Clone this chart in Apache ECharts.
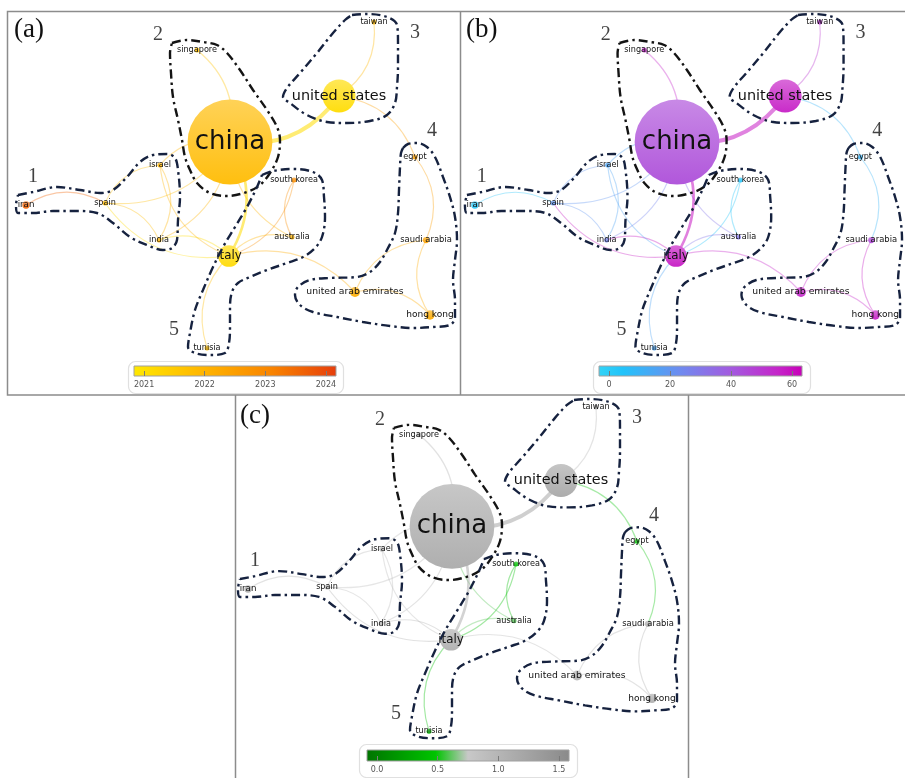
<!DOCTYPE html>
<html>
<head>
<meta charset="utf-8">
<script src="https://cdn.jsdelivr.net/npm/echarts@6/dist/echarts.min.js"></script>
<style>
  html, body { margin: 0; padding: 0; background: #ffffff; }
  #chart { width: 905px; height: 778px; }
</style>
</head>
<body>
<div id="chart"></div>
<script>
// ---- Country co-authorship network (map coordinates, china at the origin) ----
const countries = ['china', 'united states', 'italy', 'singapore', 'taiwan', 'israel', 'iran', 'spain',
  'india', 'south korea', 'australia', 'egypt', 'saudi arabia', 'united arab emirates', 'hong kong', 'tunisia'];
const mapX = [0, 1.09, -0.01, -0.33, 1.44, -0.70, -2.04, -1.25, -0.71, 0.64, 0.62, 1.85, 1.96, 1.25, 2.00, -0.23];
const mapY = [0, 0.46, -1.14, 0.92, 1.20, -0.23, -0.63, -0.61, -0.98, -0.38, -0.95, -0.15, -0.98, -1.50, -1.73, -2.06];
const weights = [46, 7, 3, 0.16, 0.16, 0.16, 0.35, 0.16, 0.16, 0.16, 0.16, 0.16, 0.25, 0.65, 0.55, 0.16];

// overlay scores
const avgPubYear = [2021.85, 2021.1, 2021.15, 2021.7, 2021.9, 2022.0, 2023.6, 2021.8, 2022.0, 2022.9, 2022.0, 2022.5, 2022.4, 2022.15, 2022.2, 2021.8];
const avgCitations = [44, 57, 58, 55, 50, 15, 3, 20, 25, 4, 30, 10, 45, 55, 57, 15];
const avgNormCitations = [1.15, 1.2, 1.1, 1.1, 1.0, 0.95, 1.1, 0.95, 1.0, 0.45, 0.6, 0.5, 1.1, 1.0, 1.1, 0.45];

// links: [source, target, link strength]
const links = [
  ['singapore', 'china', 1.2], ['united states', 'china', 4], ['taiwan', 'united states', 1],
  ['egypt', 'united states', 1], ['egypt', 'saudi arabia', 1], ['hong kong', 'saudi arabia', 1],
  ['united arab emirates', 'saudi arabia', 1], ['united arab emirates', 'hong kong', 1],
  ['united arab emirates', 'italy', 1], ['south korea', 'italy', 1], ['south korea', 'australia', 1],
  ['australia', 'italy', 1], ['australia', 'china', 1], ['italy', 'china', 2.6],
  ['tunisia', 'italy', 1], ['iran', 'spain', 1], ['spain', 'israel', 1], ['spain', 'india', 1],
  ['israel', 'india', 1], ['spain', 'china', 1], ['india', 'china', 1], ['israel', 'china', 1],
  ['italy', 'india', 1], ['italy', 'spain', 1], ['israel', 'italy', 1]
];
const linkBend = [1, 1, 1, -1, 1, 1, 1, 1, -1, 1, -1, -1, 1, -1, 1, 1, 1, 1, 1, -1, -1, 1, -1, 1, -1];

// cluster hulls (map coordinates)
const cluster1Outline = [[-2.12,-0.53],[-1.97,-0.50],[-1.73,-0.45],[-1.50,-0.48],[-1.30,-0.51],[-1.17,-0.48],[-1.03,-0.35],[-0.90,-0.20],[-0.77,-0.13],[-0.63,-0.12],[-0.55,-0.16],[-0.52,-0.28],[-0.50,-0.55],[-0.52,-0.78],[-0.53,-0.98],[-0.58,-1.06],[-0.67,-1.08],[-0.83,-1.03],[-1.00,-0.95],[-1.17,-0.81],[-1.33,-0.71],[-1.53,-0.69],[-1.77,-0.69],[-1.97,-0.71],[-2.12,-0.71],[-2.14,-0.63]];
const cluster2Outline = [[-0.58,0.99],[-0.43,1.02],[-0.27,1.00],[-0.13,0.97],[-0.03,0.89],[0.10,0.72],[0.23,0.52],[0.37,0.32],[0.47,0.15],[0.50,0.02],[0.48,-0.15],[0.40,-0.31],[0.30,-0.43],[0.17,-0.50],[-0.03,-0.54],[-0.20,-0.51],[-0.33,-0.41],[-0.40,-0.28],[-0.45,-0.15],[-0.48,0.02],[-0.52,0.22],[-0.57,0.45],[-0.59,0.69],[-0.60,0.89]];
const cluster3Outline = [[1.22,1.27],[1.37,1.28],[1.57,1.25],[1.67,1.17],[1.68,0.99],[1.68,0.75],[1.67,0.55],[1.65,0.39],[1.57,0.27],[1.40,0.21],[1.17,0.19],[0.97,0.20],[0.77,0.27],[0.60,0.39],[0.53,0.45],[0.57,0.54],[0.70,0.69],[0.87,0.89],[1.03,1.09],[1.15,1.22]];
const cluster4Outline = [[1.73,-0.06],[1.78,-0.02],[1.87,-0.01],[1.97,-0.05],[2.05,-0.15],[2.13,-0.35],[2.20,-0.55],[2.25,-0.75],[2.27,-0.98],[2.25,-1.18],[2.23,-1.38],[2.25,-1.58],[2.25,-1.75],[2.20,-1.83],[2.03,-1.85],[1.83,-1.86],[1.60,-1.84],[1.33,-1.80],[1.07,-1.75],[0.83,-1.70],[0.70,-1.63],[0.65,-1.53],[0.68,-1.45],[0.80,-1.38],[1.00,-1.36],[1.27,-1.35],[1.40,-1.30],[1.50,-1.20],[1.58,-1.06],[1.65,-0.91],[1.68,-0.71],[1.69,-0.48],[1.70,-0.25],[1.71,-0.11]];
const cluster5Outline = [[0.32,-0.33],[0.43,-0.29],[0.63,-0.27],[0.83,-0.30],[0.92,-0.38],[0.94,-0.55],[0.95,-0.75],[0.92,-0.95],[0.85,-1.06],[0.73,-1.15],[0.57,-1.21],[0.37,-1.28],[0.20,-1.35],[0.08,-1.41],[0.02,-1.50],[0.00,-1.65],[0.00,-1.85],[-0.01,-2.01],[-0.05,-2.11],[-0.20,-2.13],[-0.35,-2.11],[-0.42,-2.05],[-0.40,-1.91],[-0.35,-1.68],[-0.27,-1.48],[-0.17,-1.25],[-0.07,-1.05],[0.05,-0.85],[0.17,-0.65],[0.27,-0.45]];
const clusterOutlines = [cluster1Outline, cluster2Outline, cluster3Outline, cluster4Outline, cluster5Outline];
const clusterNames = ['1', '2', '3', '4', '5'];
const clusterLabelX = [-1.97, -0.72, 1.85, 2.02, -0.56];
const clusterLabelY = [-0.35, 1.07, 1.09, 0.11, -1.88];

// colour scales
const yearTicks = [2021, 2022, 2023, 2024];
const citationTicks = [0, 20, 40, 60];
const normTicks = [0, 0.5, 1, 1.5];
const yearRange = [2020.833, 2024.167];
const citationRange = [-3.28, 63.28];
const normRange = [-0.083, 1.583];

// ---------------------------------------------------------------------------
const yearStops = [[0, '#FFE800'], [0.35, '#FFB400'], [0.68, '#F98400'], [1, '#E63E0C']];
const citeStops = [[0, '#33D3F6'], [0.12, '#22C3FA'], [0.4, '#6F8BEF'], [0.65, '#A35ADF'], [0.88, '#C525C9'], [1, '#C800B8']];
const normStops = [[0, '#007400'], [0.34, '#00C400'], [0.5, '#C8C8C8'], [1, '#8A8A8A']];

function hexToRgb(h) {
  return [parseInt(h.slice(1, 3), 16), parseInt(h.slice(3, 5), 16), parseInt(h.slice(5, 7), 16)];
}
function rgbStr(c) { return 'rgb(' + c.map(v => Math.round(v)).join(',') + ')'; }
function mix(a, b, t) { return [0, 1, 2].map(i => a[i] + (b[i] - a[i]) * t); }
function scaleColor(stops, range, v) {
  let t = (v - range[0]) / (range[1] - range[0]);
  t = Math.max(0, Math.min(1, t));
  for (let i = 1; i < stops.length; i++) {
    if (t <= stops[i][0]) {
      const s0 = stops[i - 1], s1 = stops[i];
      return mix(hexToRgb(s0[1]), hexToRgb(s1[1]), (t - s0[0]) / (s1[0] - s0[0]));
    }
  }
  return hexToRgb(stops[stops.length - 1][1]);
}
function gradientOf(stops) {
  return { type: 'linear', x: 0, y: 0, x2: 1, y2: 0,
    colorStops: stops.map(s => ({ offset: s[0], color: s[1] })) };
}

const overlays = [
  { values: avgPubYear, stops: yearStops, range: yearRange },
  { values: avgCitations, stops: citeStops, range: citationRange },
  { values: avgNormCitations, stops: normStops, range: normRange }
];

// panel placement
const panelGrids = [{ left: 8, top: 12 }, { left: 457, top: 12 }, { left: 230, top: 397 }];
const MAP_X = [-2.22, 2.30], MAP_Y = [-2.53, 1.30];
const GRID_W = 452, GRID_H = 383;
const FONT = '"DejaVu Sans", sans-serif';
const SERIF = '"Liberation Serif", "Times New Roman", serif';
const WHITE = [255, 255, 255];

const grid = [], xAxis = [], yAxis = [], series = [];
const nameIndex = {};
countries.forEach((c, i) => { nameIndex[c] = i; });

panelGrids.forEach((pg, p) => {
  grid.push({ left: pg.left, top: pg.top, width: GRID_W, height: GRID_H, show: false });
  xAxis.push({ gridIndex: p, type: 'value', min: MAP_X[0], max: MAP_X[1], show: false });
  yAxis.push({ gridIndex: p, type: 'value', min: MAP_Y[0], max: MAP_Y[1], show: false });

  const ov = overlays[p];
  const nodeRgb = ov.values.map(v => scaleColor(ov.stops, ov.range, v));

  const nodes = countries.map((c, i) => {
    const base = nodeRgb[i];
    return {
      name: c,
      value: [mapX[i], mapY[i]],
      symbolSize: 12.5 * Math.sqrt(weights[i]),
      itemStyle: {
        color: { type: 'linear', x: 0, y: 0, x2: 0, y2: 1, colorStops: [
          { offset: 0, color: rgbStr(mix(base, WHITE, 0.34)) },
          { offset: 1, color: rgbStr(mix(base, WHITE, 0.06)) }
        ] }
      },
      label: { fontSize: 7 + 2.8 * Math.sqrt(weights[i]) }
    };
  });

  const edges = links.map((l, k) => {
    const s = nameIndex[l[0]], t = nameIndex[l[1]];
    return {
      source: s, target: t,
      lineStyle: {
        color: rgbStr(nodeRgb[s]),
        width: 0.3 + 0.9 * l[2],
        curveness: 0.3 * linkBend[k],
        opacity: l[2] > 2 ? 0.55 : 0.36
      }
    };
  });

  series.push({
    type: 'graph', coordinateSystem: 'cartesian2d', xAxisIndex: p, yAxisIndex: p,
    data: nodes, links: edges, silent: true, animation: false, z: 2,
    label: { show: true, position: 'inside', color: '#111', fontFamily: FONT },
    emphasis: { disabled: true }
  });

  clusterOutlines.forEach((pts, ci) => {
    series.push({
      type: 'line', xAxisIndex: p, yAxisIndex: p, data: pts.concat([pts[0]]),
      smooth: 0.35, symbol: 'none', silent: true, animation: false, clip: false, z: 3,
      lineStyle: { color: ci === 1 ? '#141414' : '#16223f', width: 2.4, type: [9, 4, 2.5, 4] }
    });
  });

  series.push({
    type: 'scatter', xAxisIndex: p, yAxisIndex: p, silent: true, animation: false, z: 4,
    symbolSize: 1, itemStyle: { color: 'rgba(0,0,0,0)' },
    data: clusterNames.map((n, i) => ({ name: n, value: [clusterLabelX[i], clusterLabelY[i]] })),
    label: { show: true, position: 'inside', formatter: '{b}', fontFamily: SERIF, fontSize: 20, color: '#111' }
  });
});

// colour bars
const bars = [
  { left: 134, top: 366, width: 202, height: 10, range: yearRange, ticks: yearTicks, stops: yearStops, fmt: v => String(v) },
  { left: 599, top: 366, width: 203, height: 10, range: citationRange, ticks: citationTicks, stops: citeStops, fmt: v => String(v) },
  { left: 367, top: 750, width: 202, height: 11, range: normRange, ticks: normTicks, stops: normStops, fmt: v => v.toFixed(1) }
];
bars.forEach((b) => {
  const gi = grid.length;
  grid.push({ left: b.left, top: b.top, width: b.width, height: b.height, show: true,
    backgroundColor: gradientOf(b.stops), borderColor: '#a0a0a0', borderWidth: 1 });
  xAxis.push({ gridIndex: gi, type: 'value', min: b.range[0], max: b.range[1],
    axisLine: { show: false }, splitLine: { show: false },
    axisTick: { show: true, inside: true, length: 5, customValues: b.ticks, lineStyle: { color: '#7a7a7a', width: 1 } },
    axisLabel: { show: true, customValues: b.ticks, formatter: b.fmt, fontSize: 8, color: '#555', fontFamily: FONT, margin: 5 } });
  yAxis.push({ gridIndex: gi, type: 'value', min: 0, max: 1, show: false });
  series.push({ type: 'scatter', xAxisIndex: gi, yAxisIndex: gi, data: [], silent: true });
});

// panel frames, legend boxes and panel letters
const graphic = [
  { type: 'rect', z: -10, shape: { x: 7.5, y: 11.5, width: 905, height: 383.5 }, style: { fill: 'none', stroke: '#8c8c8c', lineWidth: 1.5 } },
  { type: 'line', z: -10, shape: { x1: 460.5, y1: 11.5, x2: 460.5, y2: 395 }, style: { stroke: '#8c8c8c', lineWidth: 1.5 } },
  { type: 'line', z: -10, shape: { x1: 235.5, y1: 395, x2: 235.5, y2: 780 }, style: { stroke: '#8c8c8c', lineWidth: 1.5 } },
  { type: 'line', z: -10, shape: { x1: 688.5, y1: 395, x2: 688.5, y2: 780 }, style: { stroke: '#8c8c8c', lineWidth: 1.5 } },
  { type: 'rect', z: -5, shape: { x: 128.5, y: 361.5, width: 215, height: 32, r: 7 }, style: { fill: '#fff', stroke: '#e0e0e0', lineWidth: 1.2 } },
  { type: 'rect', z: -5, shape: { x: 593.5, y: 361.5, width: 217, height: 32, r: 7 }, style: { fill: '#fff', stroke: '#e0e0e0', lineWidth: 1.2 } },
  { type: 'rect', z: -5, shape: { x: 359.5, y: 744.5, width: 218, height: 33, r: 7 }, style: { fill: '#fff', stroke: '#e0e0e0', lineWidth: 1.2 } },
  { type: 'text', left: 14, top: 16, style: { text: '(a)', font: '27px ' + SERIF, fill: '#111' } },
  { type: 'text', left: 466, top: 16, style: { text: '(b)', font: '27px ' + SERIF, fill: '#111' } },
  { type: 'text', left: 240, top: 402, style: { text: '(c)', font: '27px ' + SERIF, fill: '#111' } }
];

const chart = echarts.init(document.getElementById('chart'), null, { renderer: 'canvas' });
chart.setOption({
  backgroundColor: '#ffffff',
  animation: false,
  grid, xAxis, yAxis, series, graphic
});
</script>
</body>
</html>
